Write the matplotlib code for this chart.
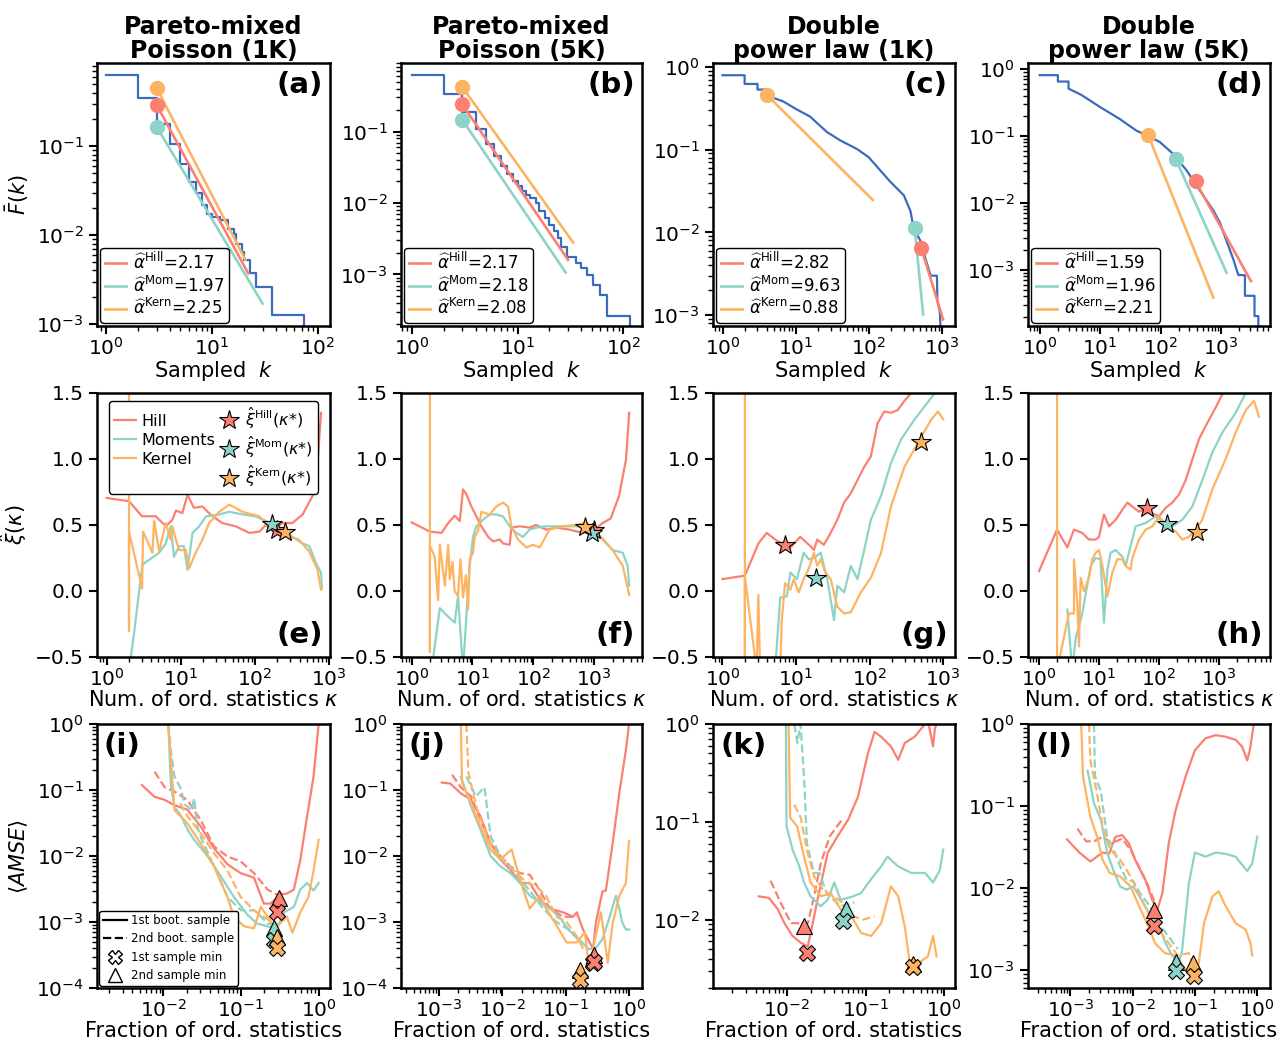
import matplotlib.pyplot as plt
from matplotlib.lines import Line2D
from matplotlib.ticker import LogLocator, NullFormatter

plt.rcParams['font.family'] = ['DejaVu Sans']
plt.rcParams['mathtext.fontset'] = 'dejavusans'

# colours (Set3-like)
HILL = '#fb8072'
MOM = '#8dd3c7'
KERN = '#fdb462'
BLUE = '#3a6bbf'
cols = [HILL, MOM, KERN]

# ---------------- top row: empirical CCDF + fitted tails ----------------
a_k = [1, 2, 3, 4, 5, 6, 7, 8, 9, 10, 12, 14, 16, 17, 19, 20, 23, 26, 37, 74]
a_F = [0.63, 0.345, 0.176, 0.105, 0.063, 0.040, 0.030, 0.022, 0.0174, 0.016, 0.0147,
       0.0118, 0.0104, 0.0080, 0.0064, 0.0052, 0.0037, 0.0026, 0.00126, 0.0005]
b_k = [1, 2, 3, 4, 5, 6, 7, 8, 9, 10, 11, 12, 13, 15, 16, 18, 20, 22, 24, 26, 29,
       36, 40, 45, 52, 60, 70, 115]
b_F = [0.62, 0.34, 0.19, 0.109, 0.067, 0.046, 0.033, 0.0258, 0.0203, 0.0173, 0.0147,
       0.0129, 0.0118, 0.010, 0.0077, 0.0062, 0.0049, 0.0040, 0.0032, 0.00246, 0.00178,
       0.00143, 0.00122, 0.00098, 0.00071, 0.00051, 0.00026, 0.0001]
c_k = [1, 2, 2, 3, 3, 4, 4, 5, 6.8, 10, 15.7, 26.6, 40.5, 68, 99, 143, 195, 300, 370,
       405, 505, 620, 700, 850, 860, 930, 960]
c_F = [0.79, 0.79, 0.62, 0.62, 0.53, 0.53, 0.45, 0.42, 0.38, 0.31, 0.25, 0.163, 0.129,
       0.102, 0.081, 0.056, 0.041, 0.028, 0.018, 0.0115, 0.0079, 0.0042, 0.003, 0.003,
       0.0015, 0.0011, 0.0006]
d_k = [1, 2, 2, 3, 3, 4.9, 10, 21, 40, 62.6, 97.6, 162, 270, 450, 750, 960, 1240, 1600,
       1940, 2500, 2500, 3600, 3600, 4170, 4170]
d_F = [0.81, 0.81, 0.65, 0.65, 0.51, 0.41, 0.27, 0.18, 0.12, 0.10, 0.081, 0.054, 0.0306,
       0.0153, 0.0077, 0.0051, 0.0027, 0.00145, 0.00084, 0.00083, 0.00041, 0.00041,
       0.000204, 0.000204, 0.0001]

# fitted tail lines, order Hill, Moments, Kernel: [start, end]
a_fit_k = [[3, 22], [3, 30], [3, 20.6]]
a_fit_F = [[0.29, 0.0037], [0.165, 0.0017], [0.45, 0.0053]]
b_fit_k = [[3, 30], [3, 28.4], [3, 33.5]]
b_fit_F = [[0.24, 0.0016], [0.146, 0.00107], [0.42, 0.0028]]
c_fit_k = [[521, 1030], [422, 550], [4.1, 113]]
c_fit_F = [[0.0064, 0.00089], [0.0113, 0.00102], [0.45, 0.0246]]
d_fit_k = [[380, 3140], [180, 1240], [62.6, 750]]
d_fit_F = [[0.0209, 0.00068], [0.0447, 0.00091], [0.102, 0.000385]]

a_alpha = ['2.17', '1.97', '2.25']
b_alpha = ['2.17', '2.18', '2.08']
c_alpha = ['2.82', '9.63', '0.88']
d_alpha = ['1.59', '1.96', '2.21']

titles = ['Pareto-mixed\nPoisson (1K)', 'Pareto-mixed\nPoisson (5K)',
          'Double\npower law (1K)', 'Double\npower law (5K)']

# ---------------- middle row: xi estimates vs kappa ----------------
e_hill_k = [1, 2, 3, 4.6, 6.3, 7.7, 8.6, 10.5, 12.3, 15, 19.6, 25, 36, 55, 84, 115, 140,
            172, 235, 320, 440, 600, 700, 780]
e_hill = [0.705, 0.68, 0.566, 0.566, 0.49, 0.54, 0.61, 0.59, 0.73, 0.63, 0.64, 0.58,
          0.515, 0.49, 0.44, 0.45, 0.50, 0.46, 0.515, 0.515, 0.58, 0.72, 0.97, 1.35]
e_mom_k = [2, 2.34, 3.03, 5.1, 6.26, 7.3, 8.1, 9.5, 11, 12.3, 14.4, 17.7, 21.8, 33, 45,
           68, 103, 141, 173, 236, 322, 439, 542, 668, 779, 800]
e_mom = [-0.6, -0.32, 0.2, 0.29, 0.36, 0.49, 0.26, 0.34, 0.34, 0.16, 0.44, 0.49, 0.565,
         0.58, 0.60, 0.58, 0.565, 0.53, 0.50, 0.46, 0.41, 0.36, 0.34, 0.21, 0.14, 0.02]
e_kern_k = [2, 2, 2, 3, 3.1, 4.14, 4.36, 5.1, 5.65, 6.26, 7.3, 7.7, 8.57, 9.5, 11.7,
            12.9, 15.9, 19.6, 24.1, 33, 45, 68, 115, 155, 215, 290, 390, 540, 700, 780]
e_kern = [3.0, -0.30, 0.45, 0.02, 0.45, 0.29, 0.53, 0.30, 0.41, 0.515, 0.39, 0.49, 0.39,
          0.31, 0.31, 0.17, 0.29, 0.39, 0.515, 0.60, 0.655, 0.60, 0.565, 0.49, 0.465,
          0.41, 0.39, 0.30, 0.16, 0.01]
e_star_k = [200, 172, 255]
e_star = [0.465, 0.51, 0.447]

f_hill_k = [1, 2.0, 3.1, 4.0, 5.1, 6.2, 7.0, 8.0, 9.6, 11.6, 14.0, 18.1, 21.8, 28.1,
            31.8, 40.9, 43.6, 59.7, 87, 111, 163, 239, 393, 651, 942, 1370, 1870, 2560,
            3330, 3760]
f_hill = [0.52, 0.45, 0.44, 0.515, 0.57, 0.53, 0.77, 0.73, 0.64, 0.565, 0.49, 0.41,
          0.376, 0.39, 0.36, 0.35, 0.48, 0.49, 0.48, 0.50, 0.465, 0.48, 0.465, 0.44,
          0.45, 0.515, 0.55, 0.72, 0.995, 1.35]
f_mom_k = [2.13, 2.91, 3.52, 5.1, 5.8, 7.0, 8.0, 9.0, 10.2, 11.6, 14.9, 19.2, 24.6, 31.8,
           40.9, 52.6, 67.7, 87, 111, 163, 307, 651, 942, 1370, 2010, 2950, 3540, 3760]
f_mom = [-0.6, -0.13, -0.17, -0.24, -0.04, -0.6, -0.17, 0.19, 0.41, 0.49, 0.54, 0.58,
         0.58, 0.565, 0.49, 0.44, 0.41, 0.465, 0.48, 0.49, 0.49, 0.49, 0.44, 0.40, 0.31,
         0.29, 0.19, 0.04]
f_kern_k = [2, 2, 2, 2.4, 2.73, 2.91, 3.52, 3.99, 4.25, 4.7, 5.1, 5.8, 6.35, 7.0, 7.8,
            8.5, 9.0, 10.2, 10.9, 12.4, 14, 19.2, 24.6, 31.8, 38.4, 43.6, 56, 76.7, 98.6,
            127, 185, 307, 507, 740, 1010, 1370, 2010, 2950, 3760]
f_kern = [3.0, -0.46, 0.34, 0.26, -0.07, 0.35, 0.04, 0.35, 0.09, 0.22, 0.0, -0.04, 0.24,
          -0.05, 0.12, -0.14, 0.24, 0.29, 0.41, 0.46, 0.60, 0.58, 0.64, 0.67, 0.64, 0.49,
          0.39, 0.33, 0.35, 0.33, 0.465, 0.49, 0.50, 0.52, 0.465, 0.39, 0.31, 0.19, -0.03]
f_star_k = [1000, 910, 700]
f_star = [0.46, 0.44, 0.485]

g_hill_k = [1, 2.02, 3.08, 4.0, 5.2, 6.8, 8.4, 11.4, 15.7, 17.5, 19.4, 23.9, 29.6, 36.4,
            45, 55.5, 68.4, 84.3, 104, 128, 158, 195, 240, 297, 366, 450]
g_hill = [0.09, 0.116, 0.36, 0.44, 0.39, 0.35, 0.33, 0.41, 0.34, 0.31, 0.39, 0.35, 0.44,
          0.54, 0.67, 0.74, 0.84, 0.94, 1.02, 1.27, 1.36, 1.35, 1.37, 1.44, 1.50, 1.58]
g_mom_k = [5.2, 6.1, 7.5, 8.4, 10.3, 12.7, 14.9, 17.5, 21.6, 26.6, 32.8, 36.4, 45, 55.5,
           68.4, 84.3, 104, 143, 195, 268, 409, 560, 770, 950]
g_mom = [-0.6, -0.05, -0.04, 0.14, 0.09, 0.29, 0.24, 0.25, 0.29, 0.09, -0.22, 0.04,
         -0.01, 0.19, 0.09, 0.31, 0.54, 0.72, 0.97, 1.15, 1.30, 1.40, 1.50, 1.58]
g_kern_k = [2.02, 2.02, 2.02, 2.37, 2.92, 3.08, 3.25, 6.1, 6.4, 7.1, 8.4, 9.3, 10.9, 12.7,
            14.9, 17.5, 19.4, 21.6, 25.2, 29.6, 36.4, 45, 55.5, 76, 104, 143, 195, 297,
            450, 690, 850, 1000]
g_kern = [3.0, -0.6, 0.11, -0.2, -0.6, -0.03, -0.6, -0.6, -0.22, 0.06, 0.01, 0.09, -0.01,
          0.09, 0.17, 0.29, 0.19, 0.24, 0.14, 0.09, -0.12, -0.17, -0.16, -0.01, 0.10,
          0.29, 0.64, 0.94, 1.12, 1.30, 1.36, 1.30]
g_star_k = [7.1, 18.4, 500]
g_star = [0.35, 0.10, 1.13]

h_hill_k = [1, 2, 2.97, 3.83, 5.28, 6.8, 8.8, 10, 12.1, 14.7, 19, 24.5, 29.7, 35.9, 46.4,
            60, 77.4, 100, 129, 167, 215, 278, 359, 464, 599, 880, 1136, 1468]
h_hill = [0.15, 0.465, 0.33, 0.465, 0.44, 0.39, 0.39, 0.41, 0.58, 0.49, 0.54, 0.615,
          0.67, 0.64, 0.60, 0.63, 0.59, 0.565, 0.63, 0.67, 0.73, 0.84, 0.995, 1.15, 1.25,
          1.39, 1.49, 1.56]
h_mom_k = [2.97, 3.37, 3.59, 4.08, 5.28, 6.0, 7.3, 8.8, 10.6, 12.1, 13.8, 15.6, 19, 24.5,
           27.8, 33.6, 40.8, 60, 88, 129, 167, 245, 359, 527, 774, 1136, 1896, 2783, 3594]
h_mom = [-0.14, -0.45, -0.6, -0.36, -0.17, -0.02, 0.19, 0.25, 0.24, -0.24, 0.16, 0.29,
         0.31, 0.26, 0.19, 0.34, 0.49, 0.515, 0.565, 0.515, 0.49, 0.54, 0.64, 0.84, 1.05,
         1.2, 1.35, 1.5, 1.56]
h_kern_k = [2, 2, 3.16, 3.83, 3.83, 4.36, 4.64, 4.94, 5.6, 6.8, 7.7, 8.8, 10, 11.4, 13.8,
            16.7, 20.2, 24.5, 27.8, 33.6, 35.9, 46.4, 60, 77.4, 100, 129, 190, 245, 316,
            408, 527, 774, 1292, 1896, 2783, 3830, 4642]
h_kern = [3.0, -0.6, -0.17, -0.17, 0.24, -0.1, -0.42, 0.1, 0.0, 0.1, 0.24, 0.29, 0.31,
          0.19, -0.04, 0.14, 0.24, 0.24, 0.19, 0.16, 0.25, 0.39, 0.465, 0.49, 0.565, 0.50,
          0.45, 0.39, 0.41, 0.465, 0.54, 0.77, 1.0, 1.2, 1.37, 1.44, 1.32]
h_star_k = [62, 137, 425]
h_star = [0.63, 0.51, 0.45]

# ---------------- bottom row: <AMSE> vs fraction of order statistics ----------------
i_hill1_x = [0.0053, 0.0077, 0.0104, 0.0139, 0.0205, 0.0303, 0.045, 0.067, 0.099, 0.147,
             0.197, 0.24, 0.32, 0.39, 0.48, 0.58, 0.71, 0.86, 1.0]
i_hill1_y = [0.119, 0.079, 0.071, 0.059, 0.05, 0.028, 0.013, 0.0075, 0.0055, 0.0047,
             0.0019, 0.0019, 0.0026, 0.0027, 0.0031, 0.0087, 0.04, 0.16, 1.0]
i_hill2_x = [0.0077, 0.0104, 0.0139, 0.0205, 0.0303, 0.045, 0.067, 0.099, 0.147, 0.22,
             0.29, 0.36]
i_hill2_y = [0.19, 0.11, 0.095, 0.07, 0.035, 0.014, 0.0098, 0.0083, 0.0055, 0.0031,
             0.0026, 0.0027]
i_mom1_x = [0.0116, 0.0125, 0.0139, 0.017, 0.0205, 0.025, 0.037, 0.055, 0.081, 0.12,
            0.16, 0.22, 0.29, 0.36, 0.48, 0.58, 0.71, 0.86, 1.0]
i_mom1_y = [1.0, 0.12, 0.056, 0.04, 0.025, 0.0176, 0.01, 0.0049, 0.0024, 0.0013,
            0.00095, 0.00086, 0.00078, 0.0014, 0.0017, 0.0031, 0.0039, 0.003, 0.0039]
i_mom2_x = [0.0116, 0.0125, 0.0139, 0.0165, 0.019, 0.023, 0.025, 0.027, 0.03, 0.045,
            0.067, 0.1, 0.15, 0.22, 0.3]
i_mom2_y = [1.0, 0.4, 0.16, 0.11, 0.06, 0.05, 0.075, 0.03, 0.02, 0.007, 0.0024, 0.0015,
            0.0015, 0.00095, 0.0009]
i_kern1_x = [0.0116, 0.0139, 0.0205, 0.0303, 0.045, 0.067, 0.081, 0.11, 0.147, 0.18,
             0.22, 0.26, 0.32, 0.39, 0.46, 0.58, 0.74, 0.86, 1.0]
i_kern1_y = [1.0, 0.05, 0.031, 0.0155, 0.007, 0.0024, 0.0012, 0.00086, 0.0008, 0.0017,
             0.0012, 0.0009, 0.00095, 0.0012, 0.00069, 0.0014, 0.0024, 0.006, 0.0176]
i_kern2_x = [0.0165, 0.0205, 0.0303, 0.045, 0.067, 0.099, 0.147, 0.22, 0.29]
i_kern2_y = [0.063, 0.04, 0.022, 0.011, 0.006, 0.0024, 0.0015, 0.0011, 0.0008]
i_tri_x = [0.307, 0.265, 0.29]
i_tri_y = [0.0023, 0.00081, 0.0006]
i_x_x = [0.29, 0.265, 0.29]
i_x_y = [0.0014, 0.00054, 0.0004]

j_hill1_x = [0.0011, 0.0015, 0.0022, 0.0032, 0.0045, 0.0065, 0.0093, 0.0133, 0.019,
             0.027, 0.039, 0.056, 0.091, 0.13, 0.15, 0.187, 0.27, 0.30, 0.38, 0.43, 0.55,
             0.70, 0.89, 1.0]
j_hill1_y = [0.13, 0.125, 0.089, 0.071, 0.04, 0.0155, 0.0088, 0.0062, 0.0039, 0.0039,
             0.0022, 0.0016, 0.0014, 0.0012, 0.0014, 0.00077, 0.00039, 0.001, 0.0029,
             0.003, 0.0155, 0.089, 0.4, 1.0]
j_hill2_x = [0.0016, 0.0022, 0.0032, 0.0045, 0.0065, 0.0093, 0.0133, 0.019, 0.027, 0.039,
             0.056, 0.091, 0.15]
j_hill2_y = [0.17, 0.11, 0.08, 0.035, 0.0155, 0.01, 0.007, 0.0055, 0.0052, 0.003,
             0.0016, 0.0012, 0.0012]
j_mom1_x = [0.0022, 0.0032, 0.0045, 0.0065, 0.0093, 0.0133, 0.019, 0.027, 0.039, 0.056,
            0.079, 0.11, 0.16, 0.23, 0.29, 0.38, 0.48, 0.62, 0.70, 0.79, 0.89, 1.0]
j_mom1_y = [0.16, 0.056, 0.025, 0.01, 0.007, 0.0055, 0.0039, 0.0025, 0.002, 0.0016,
            0.0012, 0.00077, 0.00055, 0.00039, 0.00039, 0.00055, 0.0011, 0.0025, 0.0016,
            0.00095, 0.00077, 0.00077]
j_mom2_x = [0.0027, 0.0038, 0.0052, 0.0065, 0.0093, 0.0133, 0.019, 0.027, 0.044, 0.071,
            0.11, 0.18]
j_mom2_y = [0.16, 0.08, 0.11, 0.02, 0.01, 0.007, 0.0044, 0.003, 0.0016, 0.001, 0.00077,
            0.00047]
j_kern1_x = [0.0022, 0.0023, 0.0032, 0.0045, 0.0065, 0.0093, 0.0119, 0.014, 0.016,
             0.0215, 0.027, 0.039, 0.049, 0.071, 0.103, 0.15, 0.2, 0.236, 0.29, 0.36,
             0.46, 0.55, 0.70, 0.89, 1.0]
j_kern1_y = [1.0, 0.13, 0.063, 0.028, 0.0125, 0.0088, 0.011, 0.0125, 0.0078, 0.003,
             0.0016, 0.0025, 0.0016, 0.0009, 0.00049, 0.00049, 0.0007, 0.00019, 0.00055,
             0.0014, 0.00024, 0.00095, 0.0025, 0.0039, 0.017]
j_kern2_x = [0.0027, 0.0029, 0.004, 0.0057, 0.0082, 0.012, 0.017, 0.024, 0.034, 0.049,
             0.071, 0.103, 0.15, 0.19]
j_kern2_y = [1.0, 0.18, 0.05, 0.02, 0.011, 0.007, 0.0055, 0.0039, 0.0035, 0.0025,
             0.0012, 0.001, 0.0006, 0.00039]
j_tri_x = [0.28, 0.268, 0.166]
j_tri_y = [0.00032, 0.00028, 0.00019]
j_x_x = [0.28, 0.268, 0.166]
j_x_y = [0.00025, 0.00024, 0.00013]

k_hill1_x = [0.0044, 0.0059, 0.0076, 0.0093, 0.0118, 0.015, 0.0184, 0.0213, 0.025, 0.033,
             0.044, 0.06, 0.08, 0.107, 0.13, 0.158, 0.21, 0.26, 0.315, 0.42, 0.57, 0.62,
             0.72, 0.76, 0.8]
k_hill1_y = [0.0173, 0.0167, 0.0129, 0.0092, 0.0068, 0.0058, 0.0053, 0.0092, 0.0173,
             0.048, 0.071, 0.105, 0.18, 0.50, 0.83, 0.74, 0.59, 0.43, 0.64, 0.74, 1.0,
             1.1, 0.59, 0.9, 1.0]
k_hill2_x = [0.0062, 0.0084, 0.0113, 0.015, 0.0185, 0.022, 0.027, 0.035, 0.05]
k_hill2_y = [0.025, 0.0147, 0.0092, 0.0092, 0.0092, 0.017, 0.038, 0.071, 0.105]
k_mom1_x = [0.0097, 0.0099, 0.0118, 0.0144, 0.0165, 0.02, 0.027, 0.033, 0.04, 0.048,
            0.065, 0.087, 0.118, 0.158, 0.19, 0.26, 0.38, 0.57, 0.72, 0.88, 0.97]
k_mom1_y = [1.0, 0.09, 0.052, 0.035, 0.024, 0.0173, 0.0137, 0.016, 0.024, 0.016, 0.017,
            0.0186, 0.026, 0.035, 0.044, 0.035, 0.03, 0.03, 0.024, 0.032, 0.052]
k_mom2_x = [0.0124, 0.0136, 0.0149, 0.0165, 0.018, 0.022, 0.026, 0.032, 0.048, 0.072]
k_mom2_y = [1.0, 0.64, 1.0, 0.29, 0.06, 0.03, 0.03, 0.0186, 0.0137, 0.015]
k_kern1_x = [0.0105, 0.011, 0.0135, 0.0165, 0.02, 0.027, 0.036, 0.049, 0.066, 0.088,
             0.118, 0.158, 0.21, 0.26, 0.315, 0.36, 0.47, 0.62, 0.72, 0.8]
k_kern1_y = [1.0, 0.11, 0.09, 0.044, 0.024, 0.0173, 0.0186, 0.0125, 0.0108, 0.0073,
             0.0068, 0.0092, 0.0219, 0.0173, 0.0085, 0.0039, 0.0036, 0.0042, 0.0068,
             0.0042]
k_kern2_x = [0.0124, 0.015, 0.018, 0.022, 0.029, 0.039, 0.052, 0.07, 0.093, 0.13]
k_kern2_y = [0.15, 0.11, 0.052, 0.028, 0.02, 0.0173, 0.0147, 0.0108, 0.01, 0.0108]
k_tri_x = [0.0166, 0.057, 0.40]
k_tri_y = [0.0087, 0.0127, 0.0035]
k_x_x = [0.0178, 0.051, 0.40]
k_x_y = [0.0046, 0.0096, 0.0033]

l_hill1_x = [0.00089, 0.0014, 0.0021, 0.0033, 0.0042, 0.0053, 0.0068, 0.0087, 0.011,
             0.016, 0.0207, 0.025, 0.030, 0.038, 0.049, 0.071, 0.1, 0.148, 0.215, 0.31,
             0.45, 0.57, 0.69, 0.76, 0.88]
l_hill1_y = [0.039, 0.027, 0.021, 0.027, 0.026, 0.042, 0.044, 0.035, 0.022, 0.0125,
             0.0071, 0.0054, 0.0086, 0.035, 0.089, 0.23, 0.48, 0.67, 0.73, 0.70, 0.64,
             0.53, 0.36, 0.48, 1.0]
l_hill2_x = [0.0013, 0.0018, 0.0024, 0.0033, 0.0046, 0.0068, 0.0093, 0.0127, 0.017,
             0.023]
l_hill2_y = [0.053, 0.037, 0.037, 0.042, 0.035, 0.04, 0.029, 0.018, 0.0115, 0.0065]
l_mom1_x = [0.0019, 0.0024, 0.0031, 0.0039, 0.0049, 0.0063, 0.008, 0.0103, 0.013, 0.017,
            0.021, 0.0264, 0.034, 0.043, 0.055, 0.062, 0.08, 0.1, 0.148, 0.215, 0.31,
            0.45, 0.69, 0.83, 1.0]
l_mom1_y = [0.27, 0.108, 0.068, 0.027, 0.0166, 0.0104, 0.0095, 0.0104, 0.0078, 0.0054,
            0.0045, 0.0034, 0.0021, 0.0015, 0.0012, 0.0017, 0.0114, 0.027, 0.024, 0.027,
            0.026, 0.024, 0.016, 0.02, 0.042]
l_mom2_x = [0.0024, 0.0025, 0.0031, 0.0039, 0.0049, 0.0063, 0.008, 0.0103, 0.013, 0.019,
            0.026, 0.037, 0.053]
l_mom2_y = [1.0, 0.23, 0.15, 0.042, 0.03, 0.0184, 0.0125, 0.012, 0.0087, 0.006, 0.0037,
            0.0026, 0.0018]
l_kern1_x = [0.0015, 0.0016, 0.0021, 0.0027, 0.0033, 0.0043, 0.0063, 0.0093, 0.0127,
             0.017, 0.023, 0.033, 0.049, 0.071, 0.09, 0.115, 0.14, 0.19, 0.24, 0.31, 0.45,
             0.65, 0.78, 0.83]
l_kern1_y = [1.0, 0.23, 0.074, 0.042, 0.022, 0.0152, 0.0138, 0.0104, 0.006, 0.0037,
             0.0021, 0.0016, 0.0015, 0.001, 0.0009, 0.0012, 0.0037, 0.0078, 0.0091, 0.006,
             0.0037, 0.0031, 0.0021, 0.0015]
l_kern2_x = [0.0020, 0.0021, 0.0027, 0.0033, 0.0043, 0.0063, 0.0093, 0.0134, 0.019,
             0.031, 0.053, 0.08, 0.1]
l_kern2_y = [1.0, 0.36, 0.14, 0.056, 0.03, 0.022, 0.0138, 0.0078, 0.0045, 0.0026,
             0.0015, 0.0016, 0.001]
l_tri_x = [0.022, 0.049, 0.094]
l_tri_y = [0.0054, 0.00124, 0.0012]
l_x_x = [0.022, 0.05, 0.095]
l_x_y = [0.0034, 0.00096, 0.00083]

# ---------------- layout ----------------
W, H = 1284, 1040
fig = plt.figure(figsize=(W / 100, H / 100), dpi=100)

col_px = [(97, 330), (401, 642), (713, 955), (1028, 1270)]
row_px = [(63, 326), (393, 657), (724, 988)]


def make_ax(r, c):
    x0, x1 = col_px[c]
    y0, y1 = row_px[r]
    return fig.add_axes([x0 / W, 1 - y1 / H, (x1 - x0) / W, (y1 - y0) / H])


def log_ticks(axis):
    # every decade labelled, minor ticks in between
    axis.set_major_locator(LogLocator(base=10, numticks=30))
    axis.set_minor_locator(LogLocator(base=10, subs=(2, 3, 4, 5, 6, 7, 8, 9), numticks=30))
    axis.set_minor_formatter(NullFormatter())


def style(ax):
    for s in ax.spines.values():
        s.set_linewidth(1.8)
    ax.tick_params(which='major', length=6, width=1.5, labelsize=14.5)
    ax.tick_params(which='minor', length=3.5, width=1.0)
    ax.tick_params(axis='x', which='major', pad=2)


lw = 1.6

# top row
top = [(a_k, a_F, a_fit_k, a_fit_F, a_alpha, (0.82, 130), (9.5e-4, 0.86), 'steps'),
       (b_k, b_F, b_fit_k, b_fit_F, b_alpha, (0.79, 150), (1.9e-4, 0.91), 'steps'),
       (c_k, c_F, c_fit_k, c_fit_F, c_alpha, (0.74, 1500), (7.4e-4, 1.11), 'line'),
       (d_k, d_F, d_fit_k, d_fit_F, d_alpha, (0.64, 6500), (1.45e-4, 1.23), 'line')]
names = ['Hill', 'Mom', 'Kern']
for c, (kk, FF, fk, fF, al, xl, yl, mode) in enumerate(top):
    ax = make_ax(0, c)
    if mode == 'steps':
        ax.plot(kk, FF, color=BLUE, lw=lw, drawstyle='steps-post', zorder=2)
    else:
        ax.plot(kk, FF, color=BLUE, lw=lw, zorder=2)
    for j in range(3):
        ax.plot(fk[j], fF[j], color=cols[j], lw=lw + 0.3, zorder=3,
                label=r'$\widehat{\alpha}^{\rm %s}$=%s' % (names[j], al[j]))
        ax.plot(fk[j][0], fF[j][0], 'o', color=cols[j], ms=10, zorder=4)
    ax.set_xscale('log')
    ax.set_yscale('log')
    log_ticks(ax.xaxis)
    log_ticks(ax.yaxis)
    ax.set_xlim(*xl)
    ax.set_ylim(*yl)
    style(ax)
    ax.set_xlabel(r'Sampled  $k$', fontsize=15, labelpad=0)
    if c == 0:
        ax.set_ylabel(r'$\bar{F}(k)$', fontsize=15)
    ax.set_title(titles[c], fontsize=17, fontweight='bold', linespacing=1.0, pad=3)
    ax.text(0.97, 0.97, '(%s)' % 'abcd'[c], transform=ax.transAxes, ha='right', va='top',
            fontsize=21, fontweight='bold')
    leg = ax.legend(loc='lower left', fontsize=12, handlelength=1.3, handletextpad=0.4,
                    labelspacing=0.15, borderpad=0.25, borderaxespad=0.2, framealpha=1,
                    edgecolor='black', fancybox=True)
    leg.get_frame().set_linewidth(1.0)

# middle row
mid = [(e_hill_k, e_hill, e_mom_k, e_mom, e_kern_k, e_kern, e_star_k, e_star, (0.74, 1030)),
       (f_hill_k, f_hill, f_mom_k, f_mom, f_kern_k, f_kern, f_star_k, f_star, (0.67, 6100)),
       (g_hill_k, g_hill, g_mom_k, g_mom, g_kern_k, g_kern, g_star_k, g_star, (0.745, 1445)),
       (h_hill_k, h_hill, h_mom_k, h_mom, h_kern_k, h_kern, h_star_k, h_star, (0.656, 7080))]
for c, (hk, hv, mk, mv, kk, kv, sk, sv, xl) in enumerate(mid):
    ax = make_ax(1, c)
    ax.plot(hk, hv, color=HILL, lw=lw, label='Hill')
    ax.plot(mk, mv, color=MOM, lw=lw, label='Moments')
    ax.plot(kk, kv, color=KERN, lw=lw, label='Kernel')
    star_handles = []
    for j in range(3):
        h = ax.plot(sk[j], sv[j], '*', color=cols[j], mec='black', mew=0.8, ms=15,
                    zorder=5, label=r'$\hat{\xi}^{\rm %s}$($\kappa$*)' % names[j])
        star_handles.append(h[0])
    ax.set_xscale('log')
    log_ticks(ax.xaxis)
    ax.set_xlim(*xl)
    ax.set_ylim(-0.5, 1.5)
    ax.set_yticks([-0.5, 0.0, 0.5, 1.0, 1.5])
    style(ax)
    ax.set_xlabel(r'Num. of ord. statistics $\kappa$', fontsize=15, labelpad=0)
    if c == 0:
        ax.set_ylabel(r'$\hat{\xi}(\kappa)$', fontsize=15)
        lh = ax.get_lines()[:3] + star_handles
        leg = ax.legend(handles=lh, loc='upper center', ncol=2, fontsize=11.5,
                        handlelength=1.4, handletextpad=0.3, columnspacing=0.2,
                        labelspacing=0.25, borderpad=0.3, framealpha=1, edgecolor='black')
        leg.get_frame().set_linewidth(1.0)
    ax.text(0.97, 0.03, '(%s)' % 'efgh'[c], transform=ax.transAxes, ha='right',
            va='bottom', fontsize=21, fontweight='bold')

# bottom row
bot = [
    ([i_hill1_x, i_mom1_x, i_kern1_x], [i_hill1_y, i_mom1_y, i_kern1_y],
     [i_hill2_x, i_mom2_x, i_kern2_x], [i_hill2_y, i_mom2_y, i_kern2_y],
     i_tri_x, i_tri_y, i_x_x, i_x_y, (1.4e-3, 1.4), (1e-4, 1)),
    ([j_hill1_x, j_mom1_x, j_kern1_x], [j_hill1_y, j_mom1_y, j_kern1_y],
     [j_hill2_x, j_mom2_x, j_kern2_x], [j_hill2_y, j_mom2_y, j_kern2_y],
     j_tri_x, j_tri_y, j_x_x, j_x_y, (2.5e-4, 1.6), (1e-4, 1)),
    ([k_hill1_x, k_mom1_x, k_kern1_x], [k_hill1_y, k_mom1_y, k_kern1_y],
     [k_hill2_x, k_mom2_x, k_kern2_x], [k_hill2_y, k_mom2_y, k_kern2_y],
     k_tri_x, k_tri_y, k_x_x, k_x_y, (1.15e-3, 1.37), (2e-3, 1)),
    ([l_hill1_x, l_mom1_x, l_kern1_x], [l_hill1_y, l_mom1_y, l_kern1_y],
     [l_hill2_x, l_mom2_x, l_kern2_x], [l_hill2_y, l_mom2_y, l_kern2_y],
     l_tri_x, l_tri_y, l_x_x, l_x_y, (2.1e-4, 1.6), (6e-4, 1)),
]
for c, (x1s, y1s, x2s, y2s, tx, ty, xx, xy, xl, yl) in enumerate(bot):
    ax = make_ax(2, c)
    for j in range(3):
        ax.plot(x1s[j], y1s[j], color=cols[j], lw=lw, ls='-')
        ax.plot(x2s[j], y2s[j], color=cols[j], lw=lw, ls='--')
    for j in [1, 0, 2]:
        ax.plot(tx[j], ty[j], '^', color=cols[j], mec='black', mew=0.8, ms=11, zorder=5)
        ax.plot(xx[j], xy[j], 'X', color=cols[j], mec='black', mew=0.8, ms=11, zorder=5)
    ax.set_xscale('log')
    ax.set_yscale('log')
    log_ticks(ax.xaxis)
    log_ticks(ax.yaxis)
    ax.set_xlim(*xl)
    ax.set_ylim(*yl)
    style(ax)
    ax.set_xlabel('Fraction of ord. statistics', fontsize=15, labelpad=0)
    if c == 0:
        ax.set_ylabel(r'$\langle AMSE\rangle$', fontsize=15)
        handles = [Line2D([], [], color='black', lw=1.6, ls='-'),
                   Line2D([], [], color='black', lw=1.6, ls='--'),
                   Line2D([], [], ls='none', marker='X', mfc='white', mec='black', ms=10),
                   Line2D([], [], ls='none', marker='^', mfc='white', mec='black', ms=10)]
        labels = ['1st boot. sample', '2nd boot. sample', '1st sample min', '2nd sample min']
        leg = ax.legend(handles, labels, loc='lower left', fontsize=8.5, handlelength=2.0,
                        handletextpad=0.4, labelspacing=0.45, borderpad=0.3,
                        borderaxespad=0.2, framealpha=1, edgecolor='black')
        leg.get_frame().set_linewidth(1.0)
    ax.text(0.03, 0.97, '(%s)' % 'ijkl'[c], transform=ax.transAxes, ha='left', va='top',
            fontsize=21, fontweight='bold')

fig.savefig('out.png', dpi=100)
